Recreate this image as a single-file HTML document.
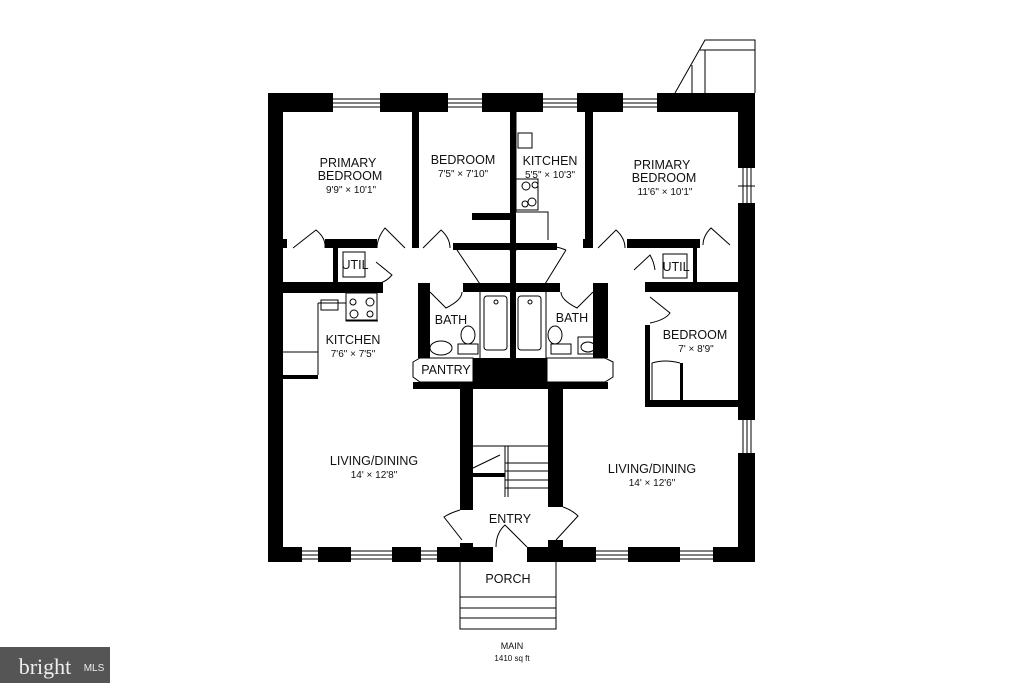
<!DOCTYPE html>
<html><head><meta charset="utf-8"><style>
html,body{margin:0;padding:0;background:#fff;width:1024px;height:683px;overflow:hidden}
svg{display:block}
text{font-family:"Liberation Sans",sans-serif;fill:#111;text-anchor:middle}
.l{font-size:12.5px}
.d{font-size:10px}
</style></head><body>
<svg width="1024" height="683" viewBox="0 0 1024 683" xmlns="http://www.w3.org/2000/svg">
<g fill="#000">
<!-- top wall -->
<rect x="268" y="93" width="65" height="19"/>
<rect x="380" y="93" width="68" height="19"/>
<rect x="482" y="93" width="61" height="19"/>
<rect x="577" y="93" width="46" height="19"/>
<rect x="657" y="93" width="98" height="19"/>
<!-- left wall -->
<rect x="268" y="93" width="15" height="469"/>
<!-- right wall -->
<rect x="738" y="93" width="17" height="75"/>
<rect x="738" y="203" width="17" height="217"/>
<rect x="738" y="453" width="17" height="109"/>
<!-- bottom wall -->
<rect x="268" y="547" width="34" height="15"/>
<rect x="318" y="547" width="33" height="15"/>
<rect x="392" y="547" width="29" height="15"/>
<rect x="437" y="547" width="56" height="15"/>
<rect x="527" y="547" width="69" height="15"/>
<rect x="628" y="547" width="52" height="15"/>
<rect x="713" y="547" width="42" height="15"/>
<rect x="460" y="543" width="13" height="6"/>
<rect x="548" y="540" width="15" height="9"/>
<!-- interior -->
<rect x="412" y="112" width="7" height="136"/>
<rect x="510" y="112" width="6" height="252"/>
<rect x="585" y="112" width="8" height="136"/>
<rect x="283" y="239" width="4" height="9"/>
<rect x="325" y="239" width="52" height="9"/>
<rect x="333" y="248" width="5" height="34"/>
<rect x="268" y="282" width="115" height="11"/>
<rect x="453" y="243" width="104" height="7"/>
<rect x="472" y="213" width="38" height="7"/>
<rect x="583" y="239" width="10" height="9"/>
<rect x="627" y="239" width="73" height="9"/>
<rect x="693" y="248" width="4" height="34"/>
<rect x="645" y="282" width="110" height="10"/>
<rect x="645" y="325" width="5" height="82"/>
<rect x="645" y="400" width="95" height="7"/>
<rect x="680" y="363" width="3" height="40"/>
<rect x="463" y="283" width="97" height="9"/>
<rect x="418" y="283" width="12" height="75"/>
<rect x="593" y="283" width="15" height="75"/>
<rect x="473" y="358" width="74" height="24"/>
<rect x="413" y="382" width="195" height="7"/>
<rect x="460" y="382" width="13" height="128"/>
<rect x="548" y="382" width="15" height="125"/>
<rect x="473" y="473" width="32" height="4"/>
<rect x="283" y="375" width="35" height="4"/>
</g>
<g fill="none" stroke="#000" stroke-width="1">
<!-- windows -->
<path d="M333 99H380M333 103H380M333 107H380"/>
<path d="M448 99H482M448 103H482M448 107H482"/>
<path d="M543 99H577M543 103H577M543 107H577"/>
<path d="M623 99H657M623 103H657M623 107H657"/>
<path d="M743 168V203M747 168V203M751 168V203M738 186H755"/>
<path d="M743 420V453M747 420V453M751 420V453"/>
<path d="M302 551H318M302 555H318M302 559H318"/>
<path d="M351 551H392M351 555H392M351 559H392"/>
<path d="M421 551H437M421 555H437M421 559H437"/>
<path d="M596 551H628M596 555H628M596 559H628"/>
<path d="M680 551H713M680 555H713M680 559H713"/>
<!-- top right stair -->
<path d="M675 93L705 40H755V93M700 50H755M705 50V93M692 65V93"/>
<!-- porch -->
<path d="M460 562V629H556V562M460 597H556M460 608H556M460 618H556"/>
<!-- stairs -->
<path d="M473 446H505V497M505 446H548M505 463H548M505 471H548M505 480H548M505 488H548M508 446V497M473 468L500 455"/>
<!-- doors -->
<path d="M293 248L316 230Q326 238 325 248"/>
<path d="M405 248L385 228Q377 238 377 248"/>
<path d="M423 248L441 230Q450 238 450 248"/>
<path d="M598 248L616 230Q625 238 625 248"/>
<path d="M730 245L711 228Q703 236 703 245"/>
<path d="M376 262L392 275Q385 283 378 283"/>
<path d="M634 270L650 255Q654 262 655 270"/>
<path d="M650 297L670 313Q665 320 650 323"/>
<path d="M430 292L446 308Q462 300 462 292"/>
<path d="M593 292L577 308Q561 300 561 292"/>
<path d="M457 250L480 284M457 250Q485 240 510 250"/>
<path d="M566 250L545 284M566 250Q540 240 516 250"/>
<path d="M413 362L420 358H473V382H420L413 377Z"/>
<path d="M613 362L605 358H547V382H605L613 377Z"/>
<path d="M460 510Q450 513 444 517L462 540M563 507Q572 510 578 516L556 540"/>
<path d="M527 547L505 525Q496 533 496 547"/>
<!-- utils -->
<rect x="343" y="252" width="22" height="25"/>
<rect x="663" y="254" width="24" height="24"/>
<!-- left kitchen -->
<path d="M318 303H346V321H378M318 303V352H283M318 345V375"/>
<rect x="321" y="300" width="17" height="10"/>
<rect x="346" y="293" width="31" height="27"/>
<circle cx="353" cy="302" r="3"/><circle cx="370" cy="302" r="4"/><circle cx="354" cy="314" r="4"/><circle cx="370" cy="314" r="3"/>
<!-- small kitchen -->
<path d="M516 112V212H548V240"/>
<rect x="518" y="133" width="14" height="15"/>
<rect x="516" y="179" width="22" height="31"/>
<circle cx="526" cy="186" r="4"/><circle cx="535" cy="185" r="3"/><circle cx="525" cy="204" r="3"/><circle cx="532" cy="202" r="4"/>
<!-- right bedroom closet -->
<path d="M652 363Q665 359 680 363M652 363V400"/>
<!-- baths -->
<path d="M480 292V358M546 292V358"/>
<rect x="484" y="296" width="23" height="54" rx="3"/>
<rect x="518" y="296" width="23" height="54" rx="3"/>
<circle cx="496" cy="302" r="2"/><circle cx="530" cy="302" r="2"/>
<ellipse cx="468" cy="335" rx="7" ry="9"/><rect x="458" y="344" width="20" height="10"/>
<ellipse cx="555" cy="335" rx="7" ry="9"/><rect x="551" y="344" width="20" height="10"/>
<ellipse cx="441" cy="348" rx="11" ry="7"/>
<rect x="578" y="337" width="18" height="17"/><ellipse cx="588" cy="347" rx="7" ry="5"/>
</g>
<text class="l" x="348" y="167">PRIMARY</text>
<text class="l" x="350" y="180">BEDROOM</text>
<text class="d" x="351" y="193">9'9" × 10'1"</text>
<text class="l" x="463" y="164">BEDROOM</text>
<text class="d" x="463" y="177">7'5" × 7'10"</text>
<text class="l" x="550" y="165">KITCHEN</text>
<text class="d" x="550" y="178">5'5" × 10'3"</text>
<text class="l" x="662" y="169">PRIMARY</text>
<text class="l" x="664" y="182">BEDROOM</text>
<text class="d" x="665" y="195">11'6" × 10'1"</text>
<text class="l" x="355" y="269">UTIL</text>
<text class="l" x="676" y="271">UTIL</text>
<text class="l" x="353" y="344">KITCHEN</text>
<text class="d" x="353" y="357">7'6" × 7'5"</text>
<text class="l" x="451" y="324">BATH</text>
<text class="l" x="572" y="322">BATH</text>
<text class="l" x="446" y="374">PANTRY</text>
<text class="l" x="695" y="339">BEDROOM</text>
<text class="d" x="696" y="352">7' × 8'9"</text>
<text class="l" x="374" y="465">LIVING/DINING</text>
<text class="d" x="374" y="478">14' × 12'8"</text>
<text class="l" x="652" y="473">LIVING/DINING</text>
<text class="d" x="652" y="486">14' × 12'6"</text>
<text class="l" x="510" y="523">ENTRY</text>
<text class="l" x="508" y="583">PORCH</text>
<text style="font-size:9px" x="512" y="649">MAIN</text>
<text style="font-size:8px" x="512" y="661">1410 sq ft</text>
<rect x="0" y="647" width="110" height="36" fill="#555"/>
<text x="45" y="674" style="font-family:'Liberation Serif',serif;font-size:22px;fill:#eee">bright</text>
<text x="94" y="671" style="font-size:10px;fill:#eee">MLS</text>
</svg>
</body></html>
